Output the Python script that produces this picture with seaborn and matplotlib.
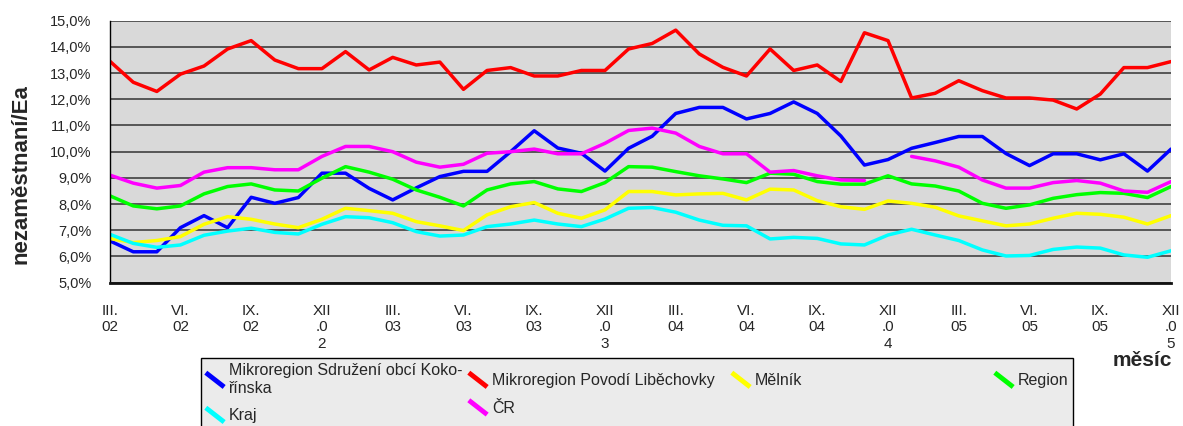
import numpy as np
import pandas as pd
import matplotlib
matplotlib.use("Agg")
import matplotlib.pyplot as plt
from matplotlib.lines import Line2D
from matplotlib.legend_handler import HandlerBase
from matplotlib.offsetbox import DrawingArea
import seaborn as sns

# unemployment rate (%) by month, III.2002 - XII.2005
months = list(range(46))
tick_labels = ["III.\n02", "VI.\n02", "IX.\n02", "XII\n.0\n2",
               "III.\n03", "VI.\n03", "IX.\n03", "XII\n.0\n3",
               "III.\n04", "VI.\n04", "IX.\n04", "XII\n.0\n4",
               "III.\n05", "VI.\n05", "IX.\n05", "XII\n.0\n5"]

kokorinsko = [6.60, 6.18, 6.18, 7.10, 7.56, 7.10, 8.26, 8.03, 8.25, 9.18, 9.18, 8.60,
              8.16, 8.62, 9.05, 9.25, 9.25, 10.00, 10.80, 10.14, 9.94, 9.26, 10.13, 10.59,
              11.46, 11.69, 11.69, 11.25, 11.46, 11.90, 11.46, 10.60, 9.49, 9.70, 10.13, 10.35,
              10.58, 10.58, 9.93, 9.47, 9.92, 9.92, 9.69, 9.92, 9.26, 10.10]
libechovka = [13.46, 12.65, 12.30, 12.96, 13.27, 13.92, 14.24, 13.50, 13.17, 13.17, 13.82, 13.12,
              13.60, 13.31, 13.42, 12.38, 13.10, 13.21, 12.89, 12.89, 13.10, 13.10, 13.92, 14.13,
              14.64, 13.73, 13.22, 12.89, 13.92, 13.10, 13.31, 12.68, 14.54, 14.24, 12.05, 12.23,
              12.71, 12.33, 12.05, 12.05, 11.97, 11.63, 12.20, 13.21, 13.21, 13.44]
melnik = [6.69, 6.53, 6.61, 6.76, 7.23, 7.52, 7.42, 7.24, 7.10, 7.42, 7.84, 7.75,
          7.65, 7.33, 7.17, 6.99, 7.59, 7.90, 8.06, 7.65, 7.46, 7.78, 8.48, 8.48,
          8.35, 8.39, 8.41, 8.16, 8.57, 8.54, 8.13, 7.90, 7.80, 8.12, 8.03, 7.88,
          7.55, 7.36, 7.17, 7.24, 7.46, 7.65, 7.61, 7.50, 7.24, 7.56]
region = [8.32, 7.93, 7.82, 7.93, 8.39, 8.67, 8.77, 8.54, 8.50, 8.99, 9.43, 9.22,
          8.95, 8.54, 8.26, 7.93, 8.54, 8.77, 8.86, 8.58, 8.48, 8.82, 9.43, 9.41,
          9.24, 9.08, 8.96, 8.82, 9.18, 9.14, 8.86, 8.76, 8.76, 9.08, 8.77, 8.69,
          8.50, 8.03, 7.84, 7.97, 8.22, 8.36, 8.44, 8.41, 8.25, 8.67]
kraj = [6.85, 6.50, 6.35, 6.44, 6.81, 6.97, 7.08, 6.92, 6.86, 7.23, 7.52, 7.48,
        7.29, 6.95, 6.78, 6.82, 7.14, 7.24, 7.39, 7.24, 7.14, 7.43, 7.84, 7.87,
        7.69, 7.39, 7.19, 7.17, 6.67, 6.73, 6.69, 6.48, 6.44, 6.82, 7.04, 6.82,
        6.61, 6.25, 6.02, 6.04, 6.27, 6.36, 6.32, 6.06, 5.97, 6.22]
cr = [9.11, 8.80, 8.61, 8.71, 9.22, 9.39, 9.39, 9.31, 9.31, 9.82, 10.20, 10.20,
      10.00, 9.60, 9.41, 9.52, 9.94, 10.00, 10.10, 9.92, 9.92, 10.32, 10.81, 10.90,
      10.71, 10.20, 9.92, 9.92, 9.22, 9.28, 9.08, 8.92, 8.90, np.nan, 9.82, 9.65,
      9.41, 8.92, 8.61, 8.61, 8.82, 8.90, 8.80, 8.50, 8.45, 8.86]

series_names = ["Mikroregion Sdružení obcí Koko-\nřínska", "Mikroregion Povodí Liběchovky",
                "Mělník", "Region", "Kraj", "ČR"]
series_values = [kokorinsko, libechovka, melnik, region, kraj, cr]
colors = ["#0000ff", "#ff0000", "#ffff00", "#00ff00", "#00ffff", "#ff00ff"]

frames = []
for name, vals in zip(series_names, series_values):
    v = pd.Series(vals, dtype=float)
    # gaps (NaN) split a series into separate segments
    frames.append(pd.DataFrame({"mesic": months, "hodnota": v, "rada": name,
                                "usek": v.isna().cumsum()}))
df = pd.concat(frames, ignore_index=True)

sns.set_style("white")
plt.rcParams["font.family"] = ["Liberation Sans", "DejaVu Sans"]

fig = plt.figure(figsize=(11.83, 4.26), dpi=100)
ax = fig.add_axes([0.0927, 0.3364, 0.8972, 0.615])
ax.set_facecolor("#d9d9d9")

sns.lineplot(data=df, x="mesic", y="hodnota", hue="rada", hue_order=series_names,
             palette=colors, units="usek", estimator=None, linewidth=2.5,
             legend=False, ax=ax)

ax.set_xlim(0, 45)
ax.set_ylim(5, 15)
ax.set_yticks(np.arange(5, 15.5, 1))
ax.set_yticklabels([f"{v:.1f}%".replace(".", ",") for v in np.arange(5, 15.5, 1)])
ax.set_xticks(months)
ax.set_xticklabels([tick_labels[i // 3] if i % 3 == 0 else "" for i in months],
                   linespacing=1.25)
ax.yaxis.grid(True, color="#333333", linewidth=1.1)
ax.set_axisbelow(True)
ax.tick_params(axis="x", length=9, width=1, color="#555555", pad=6, labelsize=11)
ax.tick_params(axis="y", length=8, width=1, color="#555555", pad=5, labelsize=10.5)
for s in ["top", "right"]:
    ax.spines[s].set_visible(False)
ax.spines["left"].set_color("black")
ax.spines["left"].set_linewidth(1)
ax.spines["bottom"].set_color("#111111")
ax.spines["bottom"].set_linewidth(2)

ax.set_ylabel("nezaměstnaní/Ea", fontsize=16, fontweight="bold")
ax.yaxis.set_label_coords(-0.074, 0.415)
ax.set_xlabel("měsíc", fontsize=15, fontweight="bold")
ax.xaxis.label.set_va("center")
ax.xaxis.set_label_coords(0.973, -0.297)


class DiagHandler(HandlerBase):
    def create_artists(self, legend, orig_handle, xdescent, ydescent,
                       width, height, fontsize, trans):
        line = Line2D([-xdescent, -xdescent + width],
                      [-ydescent + height, -ydescent],
                      color=orig_handle.get_color(), linewidth=3.5,
                      solid_capstyle="butt", transform=trans)
        return [line]


handles = {n: Line2D([], [], color=c) for n, c in zip(series_names, colors)}
order = [series_names[i] for i in [0, 4, 1, 5, 2, 3]]
leg_fs = 11.5
leg = fig.legend([handles[n] for n in order], order, ncol=4,
                 loc="upper left",
                 bbox_to_anchor=(201 / 1183, 1 - 358 / 426),
                 bbox_transform=fig.transFigure, fontsize=leg_fs,
                 handler_map={Line2D: DiagHandler()}, handlelength=1.15,
                 handleheight=1.0, handletextpad=0.3, labelspacing=0.75,
                 columnspacing=0, borderpad=0.3, borderaxespad=0,
                 fancybox=False, framealpha=1)
leg.get_frame().set_facecolor("#ebebeb")
leg.get_frame().set_edgecolor("black")
leg.get_frame().set_linewidth(1)
for t in leg.get_texts():
    t.set_linespacing(1.25)

# Excel-like legend: first three columns have equal width
renderer = fig.canvas.get_renderer()
px_per_pt = fig.dpi / 72
col_w_px = 263
lead_px = (1.15 + 0.3) * leg_fs * px_per_pt
for col in leg._legend_handle_box.get_children()[:3]:
    for entry in col.get_children():
        txt = entry.get_children()[1]
        w = txt.get_window_extent(renderer).width
        pad = max(col_w_px - lead_px - w - 0.3 * leg_fs * px_per_pt, 0)
        entry._children.append(DrawingArea(pad / px_per_pt, 1))

fig.savefig("out.png", dpi=100)
